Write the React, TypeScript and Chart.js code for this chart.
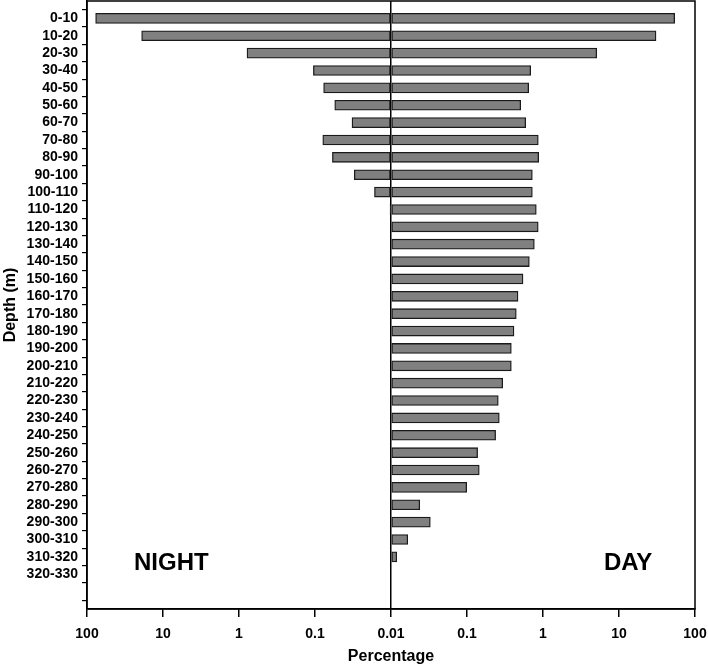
import React, { useEffect, useRef } from "react";
import { Chart, registerables } from "chart.js";

Chart.register(...registerables);

const depthBins = [
  "0-10", "10-20", "20-30", "30-40", "40-50", "50-60", "60-70", "70-80", "80-90", "90-100",
  "100-110", "110-120", "120-130", "130-140", "140-150", "150-160", "160-170", "170-180",
  "180-190", "190-200", "200-210", "210-220", "220-230", "230-240", "240-250", "250-260",
  "260-270", "270-280", "280-290", "290-300", "300-310", "310-320", "320-330",
];

// Percentage at night (left side)
const nightPct: (number | null)[] = [
  77, 19.1, 0.785, 0.105, 0.077, 0.055, 0.0326, 0.079, 0.059, 0.0304,
  0.0165, 0.0103, null, null, null, null, null, null,
  null, null, null, null, null, null, null, null,
  null, null, null, null, null, null, null,
];

// Percentage during the day (right side)
const dayPct: (number | null)[] = [
  54, 30.7, 5.09, 0.689, 0.648, 0.509, 0.592, 0.867, 0.877, 0.724,
  0.724, 0.816, 0.865, 0.769, 0.661, 0.546, 0.469, 0.445,
  0.415, 0.383, 0.383, 0.295, 0.258, 0.266, 0.238, 0.138,
  0.145, 0.099, 0.0239, 0.0329, 0.0166, 0.0119, null,
];

const xTickLabels = ["100", "10", "1", "0.1", "0.01", "0.1", "1", "10", "100"];
const axisMin = 0.01;

const FONT = "'Liberation Sans', Arial, Helvetica, sans-serif";

const toDay = (v: number | null) => (v == null ? null : Math.log10(v / axisMin));
const toNight = (v: number | null) => (v == null ? null : -Math.log10(v / axisMin));

const framePlugin = {
  id: "frameAndLabels",
  afterDraw(chart: any) {
    const { ctx, chartArea, scales } = chart;
    ctx.save();
    ctx.strokeStyle = "#000";
    ctx.lineWidth = 1.5;
    ctx.strokeRect(chartArea.left, chartArea.top, chartArea.right - chartArea.left, chartArea.bottom - chartArea.top);
    ctx.fillStyle = "#000";
    ctx.font = `bold 24px ${FONT}`;
    ctx.textAlign = "center";
    ctx.textBaseline = "middle";
    const y = scales.y.getPixelForValue(32.35);
    ctx.fillText("NIGHT", scales.x.getPixelForValue(-2.89), y);
    ctx.fillText("DAY", scales.x.getPixelForValue(3.12), y);
    ctx.restore();
  },
};

export default function App() {
  const canvasRef = useRef<HTMLCanvasElement | null>(null);

  useEffect(() => {
    if (!canvasRef.current) return;
    const labels = ["", ...depthBins, "", ""];
    const nightData = [null, ...nightPct.map(toNight), null, null];
    const dayData = [null, ...dayPct.map(toDay), null, null];

    const barStyle = {
      backgroundColor: "#808080",
      borderColor: "#1a1a1a",
      borderWidth: 1.3,
      borderSkipped: false,
      barThickness: 10,
    };

    const chart = new Chart(canvasRef.current, {
      type: "bar",
      data: {
        labels,
        datasets: [
          { label: "Night", data: nightData as any, ...barStyle },
          { label: "Day", data: dayData as any, ...barStyle },
        ],
      },
      options: {
        indexAxis: "y",
        animation: false,
        responsive: true,
        maintainAspectRatio: false,
        layout: { padding: { top: 1, right: 13, left: 0, bottom: 0 } },
        plugins: {
          legend: { display: false },
          tooltip: { enabled: false },
        },
        scales: {
          x: {
            type: "linear",
            min: -4,
            max: 4,
            stacked: true,
            afterFit: (s: any) => {
              s.height = 57;
              s.paddingLeft = 0;
              s.paddingRight = 0;
            },
            ticks: {
              stepSize: 1,
              color: "#000",
              padding: 9,
              font: { family: FONT, size: 14, weight: "bold" },
              callback: (v: any) => xTickLabels[Math.round(Number(v)) + 4],
              maxRotation: 0,
            },
            grid: {
              drawOnChartArea: true,
              color: (c: any) => (c.tick && c.tick.value === 0 ? "#000" : "rgba(0,0,0,0)"),
              lineWidth: 1.5,
              tickColor: "#000",
              tickLength: 8,
            },
            border: { display: true, color: "#000", width: 1.5 },
            title: {
              display: true,
              text: "Percentage",
              color: "#000",
              font: { family: FONT, size: 16, weight: "bold" },
              padding: { top: 0, bottom: 0 },
            },
          },
          y: {
            type: "category",
            offset: false,
            stacked: true,
            afterFit: (s: any) => {
              s.width = 87;
              s.paddingTop = 0;
              s.paddingBottom = 0;
            },
            ticks: {
              autoSkip: false,
              color: "#000",
              padding: 4,
              font: { family: FONT, size: 14, weight: "bold" },
            },
            grid: {
              drawOnChartArea: false,
              tickColor: "#000",
              tickLength: 5,
              lineWidth: 1.2,
            },
            border: { display: true, color: "#000", width: 1.5 },
            title: {
              display: true,
              text: "Depth (m)",
              color: "#000",
              font: { family: FONT, size: 16, weight: "bold" },
              padding: { top: 1, bottom: 0 },
            },
          },
        },
      } as any,
      plugins: [framePlugin],
    });
    return () => chart.destroy();
  }, []);

  return (
    <div style={{ position: "fixed", left: 0, top: 0, width: 708, height: 666, background: "#fff" }}>
      <canvas ref={canvasRef} />
    </div>
  );
}
